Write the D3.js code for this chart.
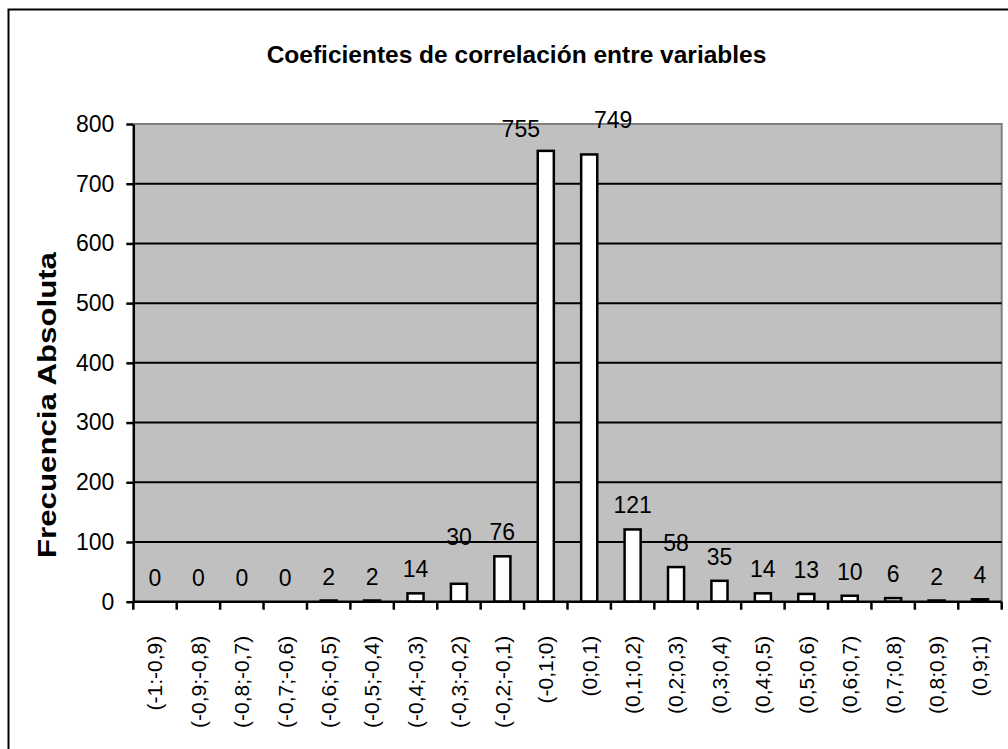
<!DOCTYPE html>
<html>
<head>
<meta charset="utf-8">
<script src="https://cdn.jsdelivr.net/npm/d3@7"></script>
<style>
  html, body { margin: 0; padding: 0; background: #fff; }
  svg { display: block; font-family: Arial, "Liberation Sans", sans-serif; }
</style>
</head>
<body>
<svg id="chart" width="1008" height="749"></svg>
<script>
// Correlation coefficient intervals and how many variable pairs fall in each
const categories = [
  "(-1:-0,9)", "(-0,9;-0,8)", "(-0,8;-0,7)", "(-0,7;-0,6)", "(-0,6;-0,5)",
  "(-0,5;-0,4)", "(-0,4;-0,3)", "(-0,3;-0,2)", "(-0,2;-0,1)", "(-0,1;0)",
  "(0;0,1)", "(0,1;0,2)", "(0,2;0,3)", "(0,3;0,4)", "(0,4;0,5)",
  "(0,5;0,6)", "(0,6;0,7)", "(0,7;0,8)", "(0,8;0,9)", "(0,9;1)"
];
const counts = [0, 0, 0, 0, 2, 2, 14, 30, 76, 755, 749, 121, 58, 35, 14, 13, 10, 6, 2, 4];
const yTicks = [0, 100, 200, 300, 400, 500, 600, 700, 800];

const titleText = "Coeficientes de correlación entre variables";
const yTitleText = "Frecuencia Absoluta";

// Value labels that are moved aside so they do not collide
const labelShift = {
  "(-0,3;-0,2)": [0, -23],
  "(-0,1;0)": [-25, 2.5],
  "(0;0,1)": [24, -10.5]
};

const svg = d3.select("#chart");
const plot = { left: 133.3, right: 1001.7, top: 124, bottom: 601.7 };

// Outer chart frame
svg.append("rect")
  .attr("x", 8.5).attr("y", 9.5)
  .attr("width", 1030).attr("height", 770)
  .attr("fill", "#fff").attr("stroke", "#000").attr("stroke-width", 2);

const x = d3.scaleBand()
  .domain(categories)
  .range([plot.left, plot.right])
  .paddingInner(0.63)
  .paddingOuter(0.315);

const y = d3.scaleLinear()
  .domain([0, 800])
  .range([plot.bottom, plot.top]);

// Plot area background
svg.append("rect")
  .attr("x", plot.left).attr("y", plot.top)
  .attr("width", plot.right - plot.left).attr("height", plot.bottom - plot.top)
  .attr("fill", "#C0C0C0");

// Top and right edges of the plot area
svg.append("path")
  .attr("d", `M${plot.left},${plot.top}H${plot.right}V${plot.bottom}`)
  .attr("fill", "none").attr("stroke", "#808080").attr("stroke-width", 2);

// Horizontal gridlines
svg.append("g")
  .selectAll("line")
  .data(yTicks.filter(t => t > 0 && t < 800))
  .join("line")
  .attr("x1", plot.left).attr("x2", plot.right)
  .attr("y1", d => y(d)).attr("y2", d => y(d))
  .attr("stroke", "#000").attr("stroke-width", 2);

// Bars
svg.append("g")
  .selectAll("rect")
  .data(categories)
  .join("rect")
  .attr("x", d => x(d))
  .attr("width", x.bandwidth())
  .attr("y", (d, i) => y(counts[i]))
  .attr("height", (d, i) => y(0) - y(counts[i]))
  .attr("fill", "#fff")
  .attr("stroke", "#000")
  .attr("stroke-width", 2.5);

// Y axis
const yAxis = d3.axisLeft(y).tickValues(yTicks).tickSize(7).tickPadding(12).tickSizeOuter(0);
const gy = svg.append("g")
  .attr("transform", `translate(${plot.left},0)`)
  .call(yAxis);
gy.select(".domain").attr("stroke", "#000").attr("stroke-width", 2.5);
gy.selectAll(".tick line").attr("stroke", "#000").attr("stroke-width", 2.5);
gy.selectAll(".tick text")
  .attr("font-size", 23).attr("fill", "#000")
  .attr("font-family", "Arial, 'Liberation Sans', sans-serif");

// X axis: ticks sit on the category boundaries
const gx = svg.append("g").attr("transform", `translate(0,${plot.bottom})`);
gx.append("line")
  .attr("x1", plot.left).attr("x2", plot.right)
  .attr("stroke", "#000").attr("stroke-width", 2.5);
const step = x.step();
gx.selectAll("line.tick")
  .data(d3.range(categories.length + 1))
  .join("line")
  .attr("class", "tick")
  .attr("x1", i => plot.left + i * step).attr("x2", i => plot.left + i * step)
  .attr("y1", 0).attr("y2", 8)
  .attr("stroke", "#000").attr("stroke-width", 2.5);
gx.selectAll("text")
  .data(categories)
  .join("text")
  .attr("transform", d => `translate(${x(d) + x.bandwidth() / 2},34) rotate(-90)`)
  .attr("text-anchor", "end")
  .attr("dy", "0.35em")
  .attr("font-size", 21)
  .text(d => d);

// Value labels above the bars
svg.append("g")
  .selectAll("text")
  .data(categories)
  .join("text")
  .attr("x", d => x(d) + x.bandwidth() / 2 + (labelShift[d] ? labelShift[d][0] : 0))
  .attr("y", (d, i) => y(counts[i]) - 24 + (labelShift[d] ? labelShift[d][1] : 0))
  .attr("dy", "0.35em")
  .attr("text-anchor", "middle")
  .attr("font-size", 23)
  .text((d, i) => counts[i]);

// Chart title, centred on the chart frame
svg.append("text")
  .attr("x", 516.5).attr("y", 63)
  .attr("text-anchor", "middle")
  .attr("font-size", 24.5).attr("font-weight", "bold")
  .text(titleText);

// Y axis title, drawn tall to span the value axis
svg.append("text")
  .attr("transform", `translate(56,405) rotate(-90)`)
  .attr("text-anchor", "middle")
  .attr("font-size", 25).attr("font-weight", "bold")
  .attr("textLength", 306)
  .attr("lengthAdjust", "spacingAndGlyphs")
  .text(yTitleText);
</script>
</body>
</html>
